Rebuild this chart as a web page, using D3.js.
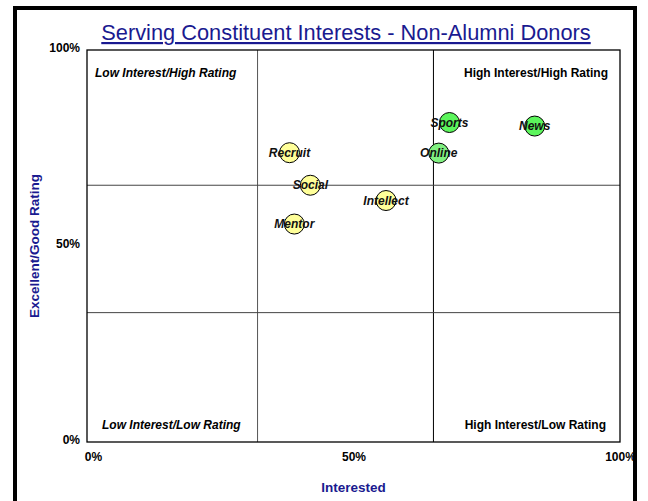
<!DOCTYPE html>
<html>
<head>
<meta charset="utf-8">
<script src="https://cdn.jsdelivr.net/npm/d3@7"></script>
<style>
  body { margin: 0; background: #fff; }
  text { font-family: Arial, "Liberation Sans", sans-serif; }
</style>
</head>
<body>
<div id="chart"></div>
<script>
//data
var names = ["Recruit", "Social", "Mentor", "Intellect", "Sports", "Online", "News"];
var interest = [0.380, 0.419, 0.389, 0.561, 0.680, 0.660, 0.840];
var rating = [0.738, 0.655, 0.556, 0.616, 0.815, 0.737, 0.806];
var group = ["low", "low", "low", "low", "high", "mid", "high"];

//quadrant divider positions
var xDividers = [0.32, 0.65];
var yDividers = [0.33, 0.655];

var xTicks = [0, 0.5, 1];
var yTicks = [0, 0.5, 1];

var fills = { low: "#ffff99", mid: "#80f080", high: "#5cf55c" };

var width = 648, height = 501;
var margin = { top: 50, right: 28, bottom: 59, left: 87 };
var innerWidth = width - margin.left - margin.right;
var innerHeight = height - margin.top - margin.bottom;

var svg = d3.select("#chart")
  .append("svg")
  .attr("width", width)
  .attr("height", height);

//outer frame
svg.append("rect")
  .attr("x", 15)
  .attr("y", 8)
  .attr("width", 620)
  .attr("height", 510)
  .attr("fill", "none")
  .attr("stroke", "#000")
  .attr("stroke-width", 4);

//title
svg.append("text")
  .attr("x", 346)
  .attr("y", 40)
  .attr("text-anchor", "middle")
  .attr("fill", "#1a1a90")
  .attr("font-size", 21.8)
  .attr("text-decoration", "underline")
  .text("Serving Constituent Interests - Non-Alumni Donors");

var g = svg.append("g")
  .attr("transform", "translate(" + margin.left + "," + margin.top + ")");

var xScale = d3.scaleLinear().domain([0, 1]).range([0, innerWidth]);
var yScale = d3.scaleLinear().domain([0, 1]).range([innerHeight, 0]);

//axes, only the labels are shown
var xAxis = d3.axisBottom(xScale).tickValues(xTicks).tickFormat(d3.format(".0%")).tickSize(0).tickPadding(10);
g.append("g")
  .attr("transform", "translate(0," + innerHeight + ")")
  .call(xAxis)
  .call(function(a) {
    a.select(".domain").remove();
    a.selectAll("text")
      .attr("font-size", 12)
      .attr("font-weight", "bold")
      .attr("font-family", "Arial, 'Liberation Sans', sans-serif")
      .attr("dx", function(d) { return d == 0 ? 6 : 0; });
  });

var yAxis = d3.axisLeft(yScale).tickValues(yTicks).tickFormat(d3.format(".0%")).tickSize(0).tickPadding(7);
g.append("g")
  .call(yAxis)
  .call(function(a) {
    a.select(".domain").remove();
    a.selectAll("text")
      .attr("font-size", 12)
      .attr("font-weight", "bold")
      .attr("font-family", "Arial, 'Liberation Sans', sans-serif")
      .attr("dy", "0.1em");
  });

//quadrant lines
g.selectAll(".vline")
  .data(xDividers)
  .enter()
  .append("line")
  .attr("x1", function(d) { return xScale(d); })
  .attr("x2", function(d) { return xScale(d); })
  .attr("y1", 0)
  .attr("y2", innerHeight)
  .attr("stroke", function(d, i) { return i == 0 ? "#555" : "#000"; })
  .attr("stroke-width", 1);

g.selectAll(".hline")
  .data(yDividers)
  .enter()
  .append("line")
  .attr("x1", 0)
  .attr("x2", innerWidth)
  .attr("y1", function(d) { return yScale(d); })
  .attr("y2", function(d) { return yScale(d); })
  .attr("stroke", "#444")
  .attr("stroke-width", 1);

//plot border
g.append("rect")
  .attr("width", innerWidth)
  .attr("height", innerHeight)
  .attr("fill", "none")
  .attr("stroke", "#000")
  .attr("stroke-width", 1.3);

//quadrant labels
var quadLabels = [
  { text: "Low Interest/High Rating", x: 8, y: 27, anchor: "start", italic: true },
  { text: "High Interest/High Rating", x: innerWidth - 12, y: 27, anchor: "end", italic: false },
  { text: "Low Interest/Low Rating", x: 15, y: innerHeight - 13, anchor: "start", italic: true },
  { text: "High Interest/Low Rating", x: innerWidth - 14, y: innerHeight - 13, anchor: "end", italic: false }
];
g.selectAll(".quad")
  .data(quadLabels)
  .enter()
  .append("text")
  .attr("x", function(d) { return d.x; })
  .attr("y", function(d) { return d.y; })
  .attr("text-anchor", function(d) { return d.anchor; })
  .attr("font-size", 12)
  .attr("font-weight", "bold")
  .attr("font-style", function(d) { return d.italic ? "italic" : "normal"; })
  .text(function(d) { return d.text; });

//points
var points = names.map(function(n, i) {
  return { name: n, x: interest[i], y: rating[i], group: group[i] };
});

g.selectAll(".dot")
  .data(points)
  .enter()
  .append("circle")
  .attr("cx", function(d) { return xScale(d.x); })
  .attr("cy", function(d) { return yScale(d.y); })
  .attr("r", 10)
  .attr("fill", function(d) { return fills[d.group]; })
  .attr("stroke", "#000")
  .attr("stroke-width", 1);

g.selectAll(".lbl")
  .data(points)
  .enter()
  .append("text")
  .attr("x", function(d) { return xScale(d.x); })
  .attr("y", function(d) { return yScale(d.y); })
  .attr("dy", "0.35em")
  .attr("text-anchor", "middle")
  .attr("font-size", 12)
  .attr("font-weight", "bold")
  .attr("font-style", "italic")
  .attr("fill", "#111")
  .text(function(d) { return d.name; });

//axis titles
svg.append("text")
  .attr("x", margin.left + innerWidth / 2)
  .attr("y", 492)
  .attr("text-anchor", "middle")
  .attr("fill", "#1a1a90")
  .attr("font-size", 13.5)
  .attr("font-weight", "bold")
  .text("Interested");

svg.append("text")
  .attr("transform", "translate(39," + (margin.top + innerHeight / 2) + ") rotate(-90)")
  .attr("text-anchor", "middle")
  .attr("fill", "#1a1a90")
  .attr("font-size", 13.5)
  .attr("font-weight", "bold")
  .text("Excellent/Good Rating");
</script>
</body>
</html>
